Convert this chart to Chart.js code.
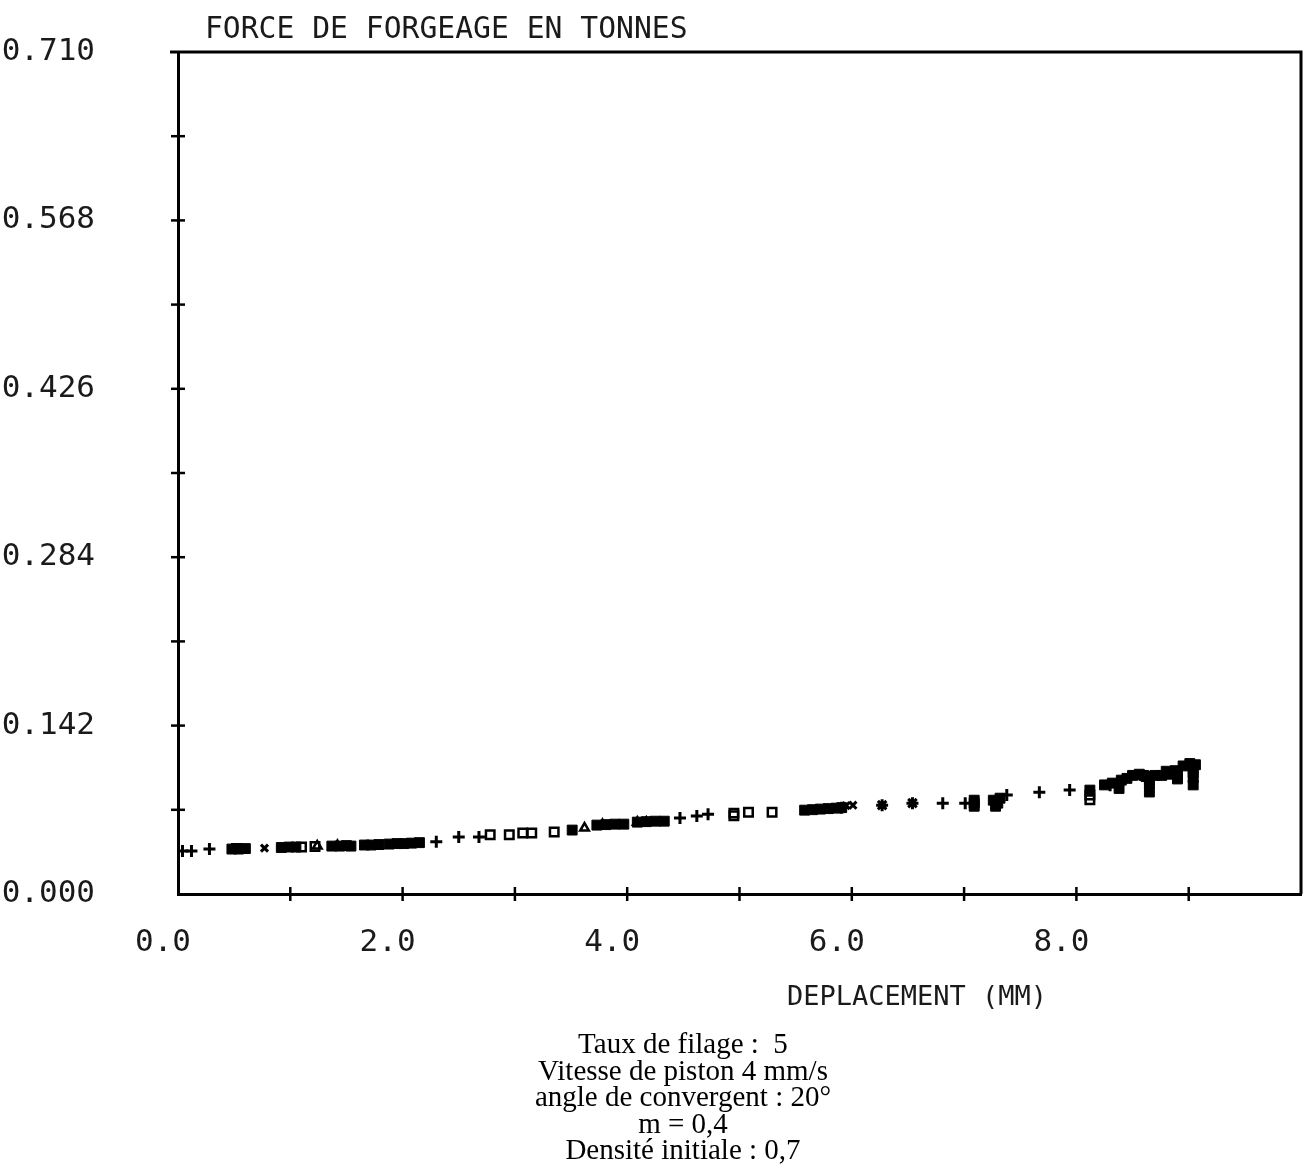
<!DOCTYPE html>
<html>
<head>
<meta charset="utf-8">
<script src="https://cdn.jsdelivr.net/npm/chart.js@4.4.1/dist/chart.umd.min.js"></script>
<style>
  html,body{margin:0;padding:0;background:#fff;}
  #wrap{position:relative;width:1303px;height:1171px;overflow:hidden;}
  canvas{position:absolute;left:0;top:0;}
  #caption{position:absolute;left:333px;width:700px;top:1030px;text-align:center;
    font-family:"Liberation Serif","Times New Roman",serif;font-size:29px;line-height:26.5px;color:#000;}
</style>
</head>
<body>
<div id="wrap">
  <canvas id="c" width="1303" height="1171"></canvas>
  <div id="caption">Taux de filage :&nbsp; 5<br>Vitesse de piston 4 mm/s<br>angle de convergent : 20°<br>m = 0,4<br>Densité initiale : 0,7</div>
</div>
<script>
// ---- data ----
const chartTitle = 'FORCE DE FORGEAGE EN TONNES';
const xAxisTitle = 'DEPLACEMENT (MM)';
const xLabelValues = [0, 2, 4, 6, 8];
const xTickLabels = ['0.0', '2.0', '4.0', '6.0', '8.0'];
const xMinorTicks = [1, 2, 3, 4, 5, 6, 7, 8, 9];
const yLabelValues = [0, 0.142, 0.284, 0.426, 0.568, 0.710];
const yTickLabels = ['0.000', '0.142', '0.284', '0.426', '0.568', '0.710'];
const yMinorTicks = [0.071, 0.142, 0.213, 0.284, 0.355, 0.426, 0.497, 0.568, 0.639];

const crossX = [0.04, 0.12, 0.28, 2.30, 2.50, 2.68, 4.47, 4.62, 4.72, 6.81, 7.01, 7.38, 7.67, 7.94, 8.30];
const crossY = [0.0362, 0.0362, 0.0379, 0.0440, 0.0480, 0.0480, 0.0640, 0.0657, 0.0673, 0.0766, 0.0766, 0.0834, 0.0859, 0.0876, 0.0918];

const squareX = [0.52, 1.10, 1.22, 2.78, 2.95, 3.07, 3.15, 3.35, 4.95, 4.95, 5.08, 5.29, 8.12, 8.12];
const squareY = [0.0383, 0.0396, 0.0400, 0.0500, 0.0500, 0.0514, 0.0514, 0.0522, 0.0682, 0.0660, 0.0690, 0.0690, 0.0834, 0.0795];

const xMarkX = [0.77, 0.93, 1.88, 6.01, 5.95];
const xMarkY = [0.0387, 0.0392, 0.0421, 0.0749, 0.0745];

const starX = [6.27, 6.54, 5.91];
const starY = [0.0749, 0.0766, 0.0728];

const triX = [1.24, 1.42, 3.62, 3.78, 4.09, 4.17];
const triY = [0.0404, 0.0408, 0.0556, 0.0585, 0.0606, 0.0606];

const blobX = [0.48, 0.54, 0.60, 0.92, 0.99, 1.05, 1.37, 1.44, 1.50, 1.54, 1.66, 1.72, 1.79,
  1.88, 1.95, 2.01, 2.08, 2.15, 3.51, 3.73, 3.81, 3.89, 3.97, 4.09, 4.17, 4.25, 4.33,
  5.58, 5.65, 5.72, 5.79, 5.86, 5.91, 7.09, 7.09, 7.09, 7.26, 7.30, 7.28, 7.32, 8.12,
  8.25, 8.32, 8.38, 8.40, 8.45, 8.50, 8.56, 8.60, 8.62, 8.65, 8.65, 8.65, 8.70, 8.76,
  8.80, 8.82, 8.88, 8.90, 8.90, 8.95, 9.01, 9.04, 9.04, 9.04, 9.04, 9.06];
const blobY = [0.0379, 0.0379, 0.0383, 0.0392, 0.0396, 0.0396, 0.0404, 0.0404, 0.0408, 0.0404, 0.0413, 0.0413, 0.0417,
  0.0421, 0.0425, 0.0425, 0.0429, 0.0433, 0.0539, 0.0581, 0.0585, 0.0589, 0.0589, 0.0606, 0.0610, 0.0614, 0.0614,
  0.0707, 0.0711, 0.0716, 0.0720, 0.0724, 0.0728, 0.0791, 0.0766, 0.0740, 0.0791, 0.0766, 0.0740, 0.0808, 0.0876,
  0.0920, 0.0935, 0.0890, 0.0960, 0.0975, 0.1000, 0.1010, 0.1000, 0.0990, 0.0960, 0.0930, 0.0860, 0.1000, 0.1000,
  0.1035, 0.1010, 0.1040, 0.1000, 0.0970, 0.1080, 0.1100, 0.1060, 0.1020, 0.0980, 0.0920, 0.1090];

const pts = (xs, ys) => xs.map((x, i) => ({x: x, y: ys[i]}));

const frame = {
  id: 'frame',
  afterDraw(chart) {
    const {ctx, chartArea: a, scales} = chart;
    ctx.save();
    ctx.strokeStyle = '#000';
    ctx.lineWidth = 3;
    ctx.beginPath();
    ctx.moveTo(170, a.top); ctx.lineTo(a.right, a.top); ctx.lineTo(a.right, a.bottom);
    ctx.stroke();
    ctx.lineWidth = 2.5;
    xMinorTicks.forEach(v => {
      const px = scales.x.getPixelForValue(v);
      ctx.beginPath(); ctx.moveTo(px, a.bottom - 7); ctx.lineTo(px, a.bottom + 7); ctx.stroke();
    });
    yMinorTicks.forEach(v => {
      const py = scales.y.getPixelForValue(v);
      ctx.beginPath(); ctx.moveTo(a.left - 7, py); ctx.lineTo(a.left + 7, py); ctx.stroke();
    });
    ctx.fillStyle = '#1a1a1a';
    ctx.textBaseline = 'middle';
    ctx.textAlign = 'left';
    ctx.font = '29.7px "DejaVu Sans Mono", monospace';
    ctx.fillText(chartTitle, 205, 30);
    ctx.font = '27px "DejaVu Sans Mono", monospace';
    ctx.fillText(xAxisTitle, 787, 998);
    ctx.restore();
  }
};

const tickFont = {family: '"DejaVu Sans Mono", monospace', size: 31};

new Chart(document.getElementById('c'), {
  type: 'scatter',
  data: {
    datasets: [
      {data: pts(crossX, crossY), pointStyle: 'cross', pointRadius: 6, borderColor: '#000', borderWidth: 3},
      {data: pts(squareX, squareY), pointStyle: 'rect', pointRadius: 6, borderColor: '#000', backgroundColor: 'rgba(0,0,0,0)', borderWidth: 2.5},
      {data: pts(xMarkX, xMarkY), pointStyle: 'crossRot', pointRadius: 5, borderColor: '#000', borderWidth: 3},
      {data: pts(starX, starY), pointStyle: 'star', pointRadius: 6, borderColor: '#000', borderWidth: 3},
      {data: pts(triX, triY), pointStyle: 'triangle', pointRadius: 5, borderColor: '#000', backgroundColor: 'rgba(0,0,0,0)', borderWidth: 2.5},
      {data: pts(blobX, blobY), pointStyle: 'rect', pointRadius: 7, borderColor: '#000', backgroundColor: '#000', borderWidth: 1}
    ]
  },
  options: {
    responsive: false,
    animation: false,
    events: [],
    layout: {autoPadding: false, padding: {left: 0, right: 2, top: 52, bottom: 0}},
    plugins: {legend: {display: false}, tooltip: {enabled: false}, title: {display: false}},
    scales: {
      x: {
        type: 'linear', min: 0, max: 10,
        afterFit(s) { s.height = 277; s.paddingLeft = 0; s.paddingRight = 0; },
        afterBuildTicks(s) { s.ticks = xLabelValues.map(v => ({value: v})); },
        ticks: {
          callback: (v) => { const i = xLabelValues.indexOf(v); return i >= 0 ? xTickLabels[i] : ''; },
          font: tickFont, color: '#1a1a1a', padding: 30, labelOffset: -15, maxRotation: 0, autoSkip: false
        },
        grid: {display: false, drawTicks: false},
        border: {display: true, color: '#000', width: 3}
      },
      y: {
        type: 'linear', min: 0, max: 0.71,
        afterFit(s) { s.width = 178; s.paddingTop = 0; s.paddingBottom = 0; },
        afterBuildTicks(s) { s.ticks = yLabelValues.map(v => ({value: v})); },
        ticks: {
          callback: (v) => { const i = yLabelValues.indexOf(v); return i >= 0 ? yTickLabels[i] : ''; },
          font: tickFont, color: '#1a1a1a', padding: 83, autoSkip: false
        },
        grid: {display: false, drawTicks: false},
        border: {display: true, color: '#000', width: 3}
      }
    }
  },
  plugins: [frame]
});
</script>
</body>
</html>
